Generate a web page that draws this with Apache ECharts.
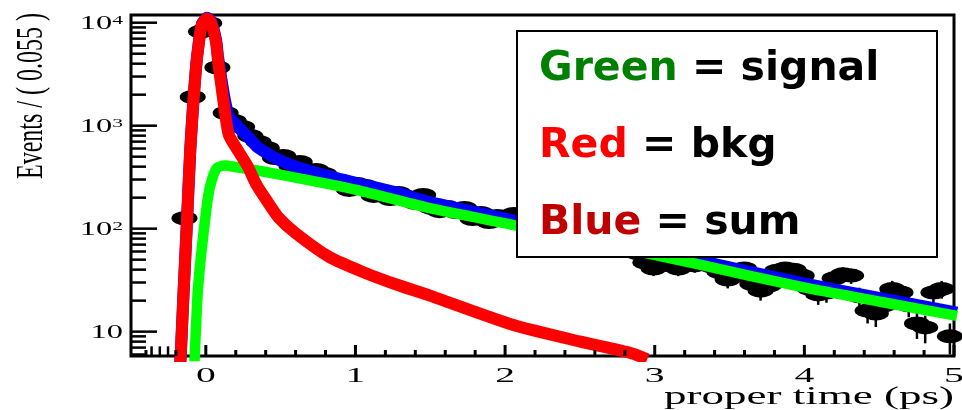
<!DOCTYPE html>
<html>
<head>
<meta charset="utf-8">
<title>Proper time fit</title>
<script src="https://cdn.jsdelivr.net/npm/echarts@6/dist/echarts.min.js"></script>
<style>
  html, body { margin: 0; padding: 0; background: #fff; }
  #chart { width: 962px; height: 410px; }
</style>
</head>
<body>
<div id="chart"></div>
<script>
// axis ranges
const xMin = -0.5, xMax = 5;
const yMin = 5.8, yMax = 11880;

// histogram, bins of 0.055 ps from -0.5 ps
const binStart = -0.5;
const binWidth = 0.055;
const binCounts = [
  null, null, 5, 5, 5, 4, 126, 1900, 8200, 9900,
  3670, 1330, 1111, 971, 794, 694, 607, 486, 508, 406,
  444, 355, 371, 340, 284, 290, 238, 272, 260, 208,
  232, 194, 222, 203, 178, 212, 159, 148, 162, 145,
  159, 124, 142, 116, 133, 121, 139, 116, 102, 119,
  95, 106, 85, 97, 79, 91, 74, 83, 68, 78,
  62, 58, 47, 41, 55, 44, 41, 54, 44, 52,
  43, 38, 32, 35, 41, 29, 25, 28, 39, 41,
  40, 35, 26, 23, 24, 33, 36, 35, 22, 16,
  15, 18, 26, 24, 18, 12, 11, 24, 26, 9
];
const binErrors = [
  null, null, 2.2, 2.2, 2.2, 2, 11.2, 43.6, 90.6, 99.5,
  60.6, 36.5, 33.3, 31.2, 28.2, 26.3, 24.6, 22.0, 22.5, 20.1,
  21.1, 18.8, 19.3, 18.4, 16.9, 17.0, 15.4, 16.5, 16.1, 14.4,
  15.2, 13.9, 14.9, 14.2, 13.3, 14.6, 12.6, 12.2, 12.7, 12.0,
  12.6, 11.1, 11.9, 10.8, 11.5, 11.0, 11.8, 10.8, 10.1, 10.9,
  9.7, 10.3, 9.2, 9.8, 8.9, 9.5, 8.6, 9.1, 8.2, 8.8,
  7.9, 7.6, 6.9, 6.4, 7.4, 6.6, 6.4, 7.3, 6.6, 7.2,
  6.6, 6.2, 5.7, 5.9, 6.4, 5.4, 5.0, 5.3, 6.2, 6.4,
  6.3, 5.9, 5.1, 4.8, 4.9, 5.7, 6.0, 5.9, 4.7, 4.0,
  3.9, 4.2, 5.1, 4.9, 4.2, 3.5, 3.3, 4.9, 5.1, 3.0
];

// fit curves [time, events]
const sumCurve = [
  [-0.175, 4.0], [-0.168, 5.8], [-0.150, 21.8], [-0.1255, 122], [-0.104, 583],
  [-0.087, 1425], [-0.067, 3490], [-0.047, 6380], [-0.027, 9560], [0.007, 11200],
  [0.034, 10450], [0.069, 6730], [0.081, 4740], [0.103, 2890], [0.126, 1830],
  [0.154, 1225], [0.201, 1030], [0.225, 940], [0.282, 780], [0.339, 630],
  [0.413, 535], [0.483, 470], [0.602, 400], [0.826, 322], [1.027, 273],
  [1.273, 225], [1.497, 181], [2.079, 118], [2.638, 78.5], [3.309, 48.5],
  [3.980, 29.7], [4.517, 21.0], [5.020, 15.3]
];
const signalCurve = [
  [-0.078, 4.5], [-0.074, 5.8], [-0.056, 21.9], [-0.037, 46.4], [-0.013, 97],
  [0.015, 205], [0.040, 297], [0.074, 389], [0.128, 411], [0.201, 397],
  [0.401, 355], [0.624, 308], [0.848, 266], [1.027, 234], [1.497, 158],
  [2.079, 107], [2.638, 71.8], [3.309, 44.4], [3.980, 27.2], [4.517, 19.4],
  [5.020, 14.2]
];
const bkgCurve = [
  [-0.175, 4.0], [-0.168, 5.8], [-0.150, 21.7], [-0.1255, 121], [-0.104, 581],
  [-0.087, 1420], [-0.067, 3480], [-0.047, 6350], [-0.027, 9500], [0.007, 11000],
  [0.034, 10160], [0.069, 6350], [0.081, 4350], [0.103, 2490], [0.126, 1420],
  [0.154, 813], [0.225, 543], [0.282, 397], [0.339, 266], [0.413, 182],
  [0.483, 130], [0.602, 90], [0.826, 53], [1.049, 38], [1.273, 28.7],
  [1.497, 22.4], [2.056, 11.6], [2.503, 8.0], [2.839, 6.2], [2.95, 5.4]
];

// ticks and labels
const xMajorTicks = [0, 1, 2, 3, 4, 5];
const xTickLabels = ['0', '1', '2', '3', '4', '5'];
const xMinorTicks = [-0.4, -0.2, 0.2, 0.4, 0.6, 0.8, 1.2, 1.4, 1.6, 1.8, 2.2, 2.4, 2.6, 2.8,
  3.2, 3.4, 3.6, 3.8, 4.2, 4.4, 4.6, 4.8];
const yMajorTicks = [10, 100, 1000, 10000];
const yTickLabels = ['10', '10{s|2}', '10{s|3}', '10{s|4}'];
const yMinorTicks = [6, 7, 8, 9, 20, 30, 40, 50, 60, 70, 80, 90,
  200, 300, 400, 500, 600, 700, 800, 900, 2000, 3000, 4000, 5000, 6000, 7000, 8000, 9000];

const points = [];
const errBars = [];
binCounts.forEach((n, i) => {
  if (n == null) return;
  const t = binStart + binWidth * (i + 0.5);
  points.push([t, n]);
  errBars.push([t, n - binErrors[i], n + binErrors[i]]);
});

const serif = '"Liberation Serif", "DejaVu Serif", serif';
const sans = '"DejaVu Sans", Verdana, sans-serif';

function tickSeries(data, dx, dy, width) {
  return {
    type: 'custom',
    silent: true,
    clip: false,
    z: 6,
    data: data,
    renderItem: (params, api) => {
      const p = api.coord([api.value(0), api.value(1)]);
      return {
        type: 'line',
        shape: { x1: p[0], y1: p[1], x2: p[0] + dx, y2: p[1] + dy },
        style: { stroke: '#000', lineWidth: width }
      };
    }
  };
}

function legendLine(y, word, color, rest) {
  return {
    type: 'text',
    x: 539,
    y: y,
    z: 101,
    style: {
      text: '{c|' + word + '} = ' + rest,
      fontFamily: sans, fontSize: 41, fontWeight: 'bold', fill: '#000',
      verticalAlign: 'middle',
      rich: { c: { fontFamily: sans, fontSize: 41, fontWeight: 'bold', fill: color } }
    }
  };
}

const chart = echarts.init(document.getElementById('chart'));

const option = {
  animation: false,
  backgroundColor: '#fff',
  grid: {
    left: 131,
    right: 8,
    top: 15,
    bottom: 54,
    show: true,
    borderColor: '#000',
    borderWidth: 3,
    backgroundColor: 'transparent'
  },
  xAxis: {
    type: 'value',
    min: xMin,
    max: xMax,
    axisLine: { show: false },
    axisTick: { show: false },
    axisLabel: { show: false },
    splitLine: { show: false }
  },
  yAxis: {
    type: 'log',
    logBase: 10,
    min: yMin,
    max: yMax,
    axisLine: { show: false },
    axisTick: { show: false },
    axisLabel: { show: false },
    splitLine: { show: false }
  },
  series: [
    {
      // error bars
      type: 'custom',
      silent: true,
      clip: true,
      z: 2,
      data: errBars,
      renderItem: (params, api) => {
        const lo = api.coord([api.value(0), api.value(1)]);
        const hi = api.coord([api.value(0), api.value(2)]);
        return {
          type: 'line',
          shape: { x1: lo[0], y1: lo[1], x2: hi[0], y2: hi[1] },
          style: { stroke: '#000', lineWidth: 2.5 }
        };
      }
    },
    {
      name: 'data',
      type: 'scatter',
      z: 2,
      symbol: 'circle',
      symbolSize: [26, 14],
      itemStyle: { color: '#000', opacity: 1 },
      data: points
    },
    {
      name: 'sum',
      type: 'line',
      z: 3,
      showSymbol: false,
      smooth: 0.2,
      lineStyle: { color: '#0000ff', width: 12 },
      data: sumCurve
    },
    {
      name: 'signal',
      type: 'line',
      z: 4,
      showSymbol: false,
      smooth: 0.2,
      lineStyle: { color: '#00ff00', width: 10.5 },
      data: signalCurve
    },
    {
      name: 'bkg',
      type: 'line',
      z: 5,
      showSymbol: false,
      smooth: 0.2,
      lineStyle: { color: '#ff0000', width: 12 },
      data: bkgCurve
    },
    tickSeries(xMajorTicks.map(v => [v, yMin]), 0, -11, 3),
    tickSeries(xMinorTicks.map(v => [v, yMin]), 0, -6, 3),
    tickSeries(yMajorTicks.map(v => [xMin, v]), 26, 0, 2.5),
    tickSeries(yMinorTicks.map(v => [xMin, v]), 15, 0, 2.5),
    {
      // x tick labels
      type: 'custom',
      silent: true,
      clip: false,
      z: 6,
      data: xMajorTicks.map(v => [v, yMin]),
      renderItem: (params, api) => {
        const p = api.coord([api.value(0), api.value(1)]);
        return {
          type: 'text',
          x: p[0],
          y: p[1] + 20,
          scaleX: 1.8,
          style: {
            text: xTickLabels[params.dataIndex],
            fontFamily: serif,
            fontSize: 22,
            fill: '#000',
            align: 'center',
            verticalAlign: 'middle'
          }
        };
      }
    },
    {
      // y tick labels
      type: 'custom',
      silent: true,
      clip: false,
      z: 6,
      data: yMajorTicks.map(v => [xMin, v]),
      renderItem: (params, api) => {
        const p = api.coord([api.value(0), api.value(1)]);
        return {
          type: 'text',
          x: p[0] - 8,
          y: p[1] + 2,
          scaleX: 1.8,
          style: {
            text: yTickLabels[params.dataIndex],
            fontFamily: serif,
            fontSize: 18,
            lineHeight: 20,
            fill: '#000',
            align: 'right',
            verticalAlign: 'middle',
            rich: {
              s: { fontFamily: serif, fontSize: 12, lineHeight: 12, verticalAlign: 'top', fill: '#000' }
            }
          }
        };
      }
    }
  ],
  graphic: {
    elements: [
      {
        type: 'text',
        x: 954,
        y: 397,
        scaleX: 1.8,
        z: 50,
        style: {
          text: 'proper time (ps)',
          fontFamily: serif,
          fontSize: 25,
          fill: '#000',
          align: 'right',
          verticalAlign: 'middle'
        }
      },
      {
        type: 'text',
        x: 32,
        y: 13,
        rotation: Math.PI / 2,
        scaleY: 1.6,
        z: 50,
        style: {
          text: 'Events / ( 0.055 )',
          fontFamily: serif,
          fontSize: 24,
          fill: '#000',
          align: 'right',
          verticalAlign: 'middle'
        }
      },
      {
        type: 'rect',
        z: 100,
        shape: { x: 517, y: 31, width: 420, height: 226 },
        style: { fill: '#fff', stroke: '#000', lineWidth: 2 }
      },
      legendLine(69, 'Green', '#008000', 'signal'),
      legendLine(146, 'Red', '#ff0000', 'bkg'),
      legendLine(223, 'Blue', '#c00000', 'sum')
    ]
  }
};

chart.setOption(option);
</script>
</body>
</html>
